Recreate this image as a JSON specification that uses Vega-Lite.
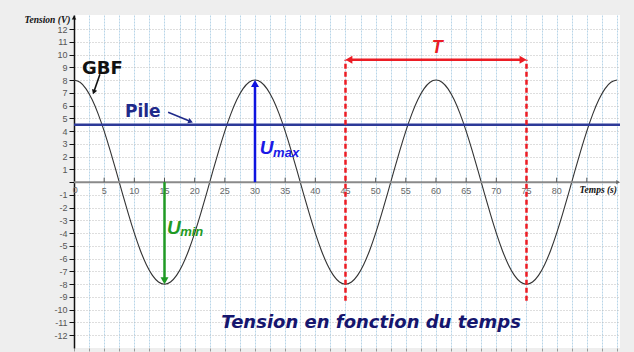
{
  "$schema": "https://vega.github.io/schema/vega-lite/v6.json",
  "width": 546,
  "height": 333,
  "autosize": {"type": "none"},
  "padding": {"left": 74, "top": 15, "right": 14, "bottom": 4},
  "background": "#eeeeee",
  "config": {"font": "Liberation Sans", "view": {"fill": "#ffffff", "stroke": null}},
  "encoding": {
    "x": {"field": "x", "type": "quantitative",
      "scale": {"domain": [0, 90.5], "nice": false, "zero": false},
      "axis": {"orient": "bottom", "title": null, "labels": false, "domain": false,
        "values": [0,2.5,5,7.5,10,12.5,15,17.5,20,22.5,25,27.5,30,32.5,35,37.5,40,42.5,45,47.5,50,52.5,55,57.5,60,62.5,65,67.5,70,72.5,75,77.5,80,82.5,85,87.5,90],
        "grid": true, "gridColor": "#b7d5e8", "gridDash": [2, 1], "gridOpacity": 1,
        "ticks": true, "tickSize": 3, "tickColor": "#999999"}},
    "y": {"field": "y", "type": "quantitative",
      "scale": {"domain": [-13, 13.1], "nice": false, "zero": false},
      "axis": {"orient": "left", "title": null,
        "values": [-12,-11,-10,-9,-8,-7,-6,-5,-4,-3,-2,-1,0,1,2,3,4,5,6,7,8,9,10,11,12],
        "labelExpr": "datum.value == 0 ? '' : '' + datum.value",
        "grid": true, "gridColor": "#bdbdbd", "gridDash": [1, 2], "gridOpacity": 1,
        "domainColor": "#111111", "domainWidth": 1.5, "tickColor": "#111111", "tickSize": 5,
        "labelFontSize": 9, "labelColor": "#555555", "labelPadding": 2}}
  },
  "layer": [
    {
      "data": {"values": [
        {"x":0,"y":8},{"x":1,"y":7.825},{"x":2,"y":7.308},{"x":3,"y":6.472},{"x":4,"y":5.353},{"x":5,"y":4},{"x":6,"y":2.472},{"x":7,"y":0.836},{"x":8,"y":-0.836},{"x":9,"y":-2.472},{"x":10,"y":-4},{"x":11,"y":-5.353},{"x":12,"y":-6.472},{"x":13,"y":-7.308},{"x":14,"y":-7.825},{"x":15,"y":-8},{"x":16,"y":-7.825},{"x":17,"y":-7.308},{"x":18,"y":-6.472},{"x":19,"y":-5.353},{"x":20,"y":-4},{"x":21,"y":-2.472},{"x":22,"y":-0.836},{"x":23,"y":0.836},{"x":24,"y":2.472},{"x":25,"y":4},{"x":26,"y":5.353},{"x":27,"y":6.472},{"x":28,"y":7.308},{"x":29,"y":7.825},
        {"x":30,"y":8},{"x":31,"y":7.825},{"x":32,"y":7.308},{"x":33,"y":6.472},{"x":34,"y":5.353},{"x":35,"y":4},{"x":36,"y":2.472},{"x":37,"y":0.836},{"x":38,"y":-0.836},{"x":39,"y":-2.472},{"x":40,"y":-4},{"x":41,"y":-5.353},{"x":42,"y":-6.472},{"x":43,"y":-7.308},{"x":44,"y":-7.825},{"x":45,"y":-8},{"x":46,"y":-7.825},{"x":47,"y":-7.308},{"x":48,"y":-6.472},{"x":49,"y":-5.353},{"x":50,"y":-4},{"x":51,"y":-2.472},{"x":52,"y":-0.836},{"x":53,"y":0.836},{"x":54,"y":2.472},{"x":55,"y":4},{"x":56,"y":5.353},{"x":57,"y":6.472},{"x":58,"y":7.308},{"x":59,"y":7.825},
        {"x":60,"y":8},{"x":61,"y":7.825},{"x":62,"y":7.308},{"x":63,"y":6.472},{"x":64,"y":5.353},{"x":65,"y":4},{"x":66,"y":2.472},{"x":67,"y":0.836},{"x":68,"y":-0.836},{"x":69,"y":-2.472},{"x":70,"y":-4},{"x":71,"y":-5.353},{"x":72,"y":-6.472},{"x":73,"y":-7.308},{"x":74,"y":-7.825},{"x":75,"y":-8},{"x":76,"y":-7.825},{"x":77,"y":-7.308},{"x":78,"y":-6.472},{"x":79,"y":-5.353},{"x":80,"y":-4},{"x":81,"y":-2.472},{"x":82,"y":-0.836},{"x":83,"y":0.836},{"x":84,"y":2.472},{"x":85,"y":4},{"x":86,"y":5.353},{"x":87,"y":6.472},{"x":88,"y":7.308},{"x":89,"y":7.825},{"x":90,"y":8}
      ]},
      "mark": {"type": "line", "color": "#333333", "strokeWidth": 1.1, "interpolate": "natural"}
    },
    {
      "data": {"values": [{"x": 0, "x2": 90.1, "y": 0}]},
      "mark": {"type": "rule", "color": "#8a8a8a", "strokeWidth": 2},
      "encoding": {"x2": {"field": "x2"}}
    },
    {
      "data": {"values": [{"x":5,"y":0,"y2":0.35},{"x":10,"y":0,"y2":0.35},{"x":15,"y":0,"y2":0.35},{"x":20,"y":0,"y2":0.35},{"x":25,"y":0,"y2":0.35},{"x":30,"y":0,"y2":0.35},{"x":35,"y":0,"y2":0.35},{"x":40,"y":0,"y2":0.35},{"x":45,"y":0,"y2":0.35},{"x":50,"y":0,"y2":0.35},{"x":55,"y":0,"y2":0.35},{"x":60,"y":0,"y2":0.35},{"x":65,"y":0,"y2":0.35},{"x":70,"y":0,"y2":0.35},{"x":75,"y":0,"y2":0.35},{"x":80,"y":0,"y2":0.35},{"x":85,"y":0,"y2":0.35}]},
      "mark": {"type": "rule", "color": "#555555", "strokeWidth": 1},
      "encoding": {"y2": {"field": "y2"}}
    },
    {
      "data": {"values": [{"x":90.2,"y":0}]},
      "mark": {"type": "point", "shape": "triangle-right", "filled": true, "size": 20, "color": "#666666", "opacity": 1}
    },
    {
      "data": {"values": [{"x":0,"y":12.9}]},
      "mark": {"type": "point", "shape": "triangle-up", "filled": true, "size": 20, "color": "#111111", "opacity": 1}
    },
    {
      "data": {"values": [{"x":0.2,"label":"0","y":-0.6},{"x":5,"label":"5","y":-0.7},{"x":10,"label":"10","y":-0.7},{"x":15,"label":"15","y":-0.7},{"x":20,"label":"20","y":-0.7},{"x":25,"label":"25","y":-0.7},{"x":30,"label":"30","y":-0.7},{"x":35,"label":"35","y":-0.7},{"x":40,"label":"40","y":-0.7},{"x":45,"label":"45","y":-0.7},{"x":50,"label":"50","y":-0.7},{"x":55,"label":"55","y":-0.7},{"x":60,"label":"60","y":-0.7},{"x":65,"label":"65","y":-0.7},{"x":70,"label":"70","y":-0.7},{"x":75,"label":"75","y":-0.7},{"x":80,"label":"80","y":-0.7}]},
      "mark": {"type": "text", "fontSize": 9, "color": "#666666", "align": "center", "baseline": "middle"},
      "encoding": {"text": {"field": "label"}}
    },
    {
      "data": {"values": [{"x": 0, "x2": 90.5, "y": 4.5}]},
      "mark": {"type": "rule", "color": "#2d3a98", "strokeWidth": 2.5},
      "encoding": {"x2": {"field": "x2"}}
    },
    {
      "data": {"values": [{"x": 30, "y": 0, "y2": 7.73}]},
      "mark": {"type": "rule", "color": "#0f14e0", "strokeWidth": 2.5},
      "encoding": {"y2": {"field": "y2"}}
    },
    {
      "data": {"values": [{"x": 30, "y": 7.73}]},
      "mark": {"type": "point", "shape": "triangle-up", "filled": true, "size": 64, "color": "#0f14e0", "opacity": 1}
    },
    {
      "data": {"values": [{"x": 15, "y": 0, "y2": -7.73}]},
      "mark": {"type": "rule", "color": "#1f9a24", "strokeWidth": 2.5},
      "encoding": {"y2": {"field": "y2"}}
    },
    {
      "data": {"values": [{"x": 15, "y": -7.73}]},
      "mark": {"type": "point", "shape": "triangle-down", "filled": true, "size": 64, "color": "#1f9a24", "opacity": 1}
    },
    {
      "data": {"values": [{"x": 45, "y": -9.3, "y2": 9.6}, {"x": 75, "y": -9.3, "y2": 9.6}]},
      "mark": {"type": "rule", "color": "#ec1c24", "strokeWidth": 2.5, "strokeDash": [5, 3]},
      "encoding": {"y2": {"field": "y2"}}
    },
    {
      "data": {"values": [{"x": 45.57, "x2": 74.43, "y": 9.6}]},
      "mark": {"type": "rule", "color": "#ec1c24", "strokeWidth": 2.5},
      "encoding": {"x2": {"field": "x2"}}
    },
    {
      "data": {"values": [{"x": 45.57, "y": 9.6}]},
      "mark": {"type": "point", "shape": "triangle-left", "filled": true, "size": 64, "color": "#ec1c24", "opacity": 1}
    },
    {
      "data": {"values": [{"x": 74.43, "y": 9.6}]},
      "mark": {"type": "point", "shape": "triangle-right", "filled": true, "size": 64, "color": "#ec1c24", "opacity": 1}
    },
    {
      "data": {"values": [{"x": 4.3, "y": 8.45, "x2": 3.28, "y2": 7.06}]},
      "mark": {"type": "rule", "color": "#111111", "strokeWidth": 1.6},
      "encoding": {"x2": {"field": "x2"}, "y2": {"field": "y2"}}
    },
    {
      "data": {"values": [{"x": 3.28, "y": 7.06}]},
      "mark": {"type": "point", "shape": "triangle-up", "filled": true, "size": 30, "angle": 199, "color": "#111111", "opacity": 1}
    },
    {
      "data": {"values": [{"x": 15.6, "y": 5.47, "x2": 19.33, "y2": 4.75}]},
      "mark": {"type": "rule", "color": "#1f2a8a", "strokeWidth": 1.6},
      "encoding": {"x2": {"field": "x2"}, "y2": {"field": "y2"}}
    },
    {
      "data": {"values": [{"x": 19.33, "y": 4.75}]},
      "mark": {"type": "point", "shape": "triangle-up", "filled": true, "size": 30, "angle": 112, "color": "#1f2a8a", "opacity": 1}
    },
    {
      "data": {"values": [{"x": 4.7, "y": 8.9, "label": "GBF"}]},
      "mark": {"type": "text", "font": "DejaVu Sans", "fontSize": 18, "fontWeight": "bold", "color": "#111111", "align": "center", "baseline": "middle"},
      "encoding": {"text": {"field": "label"}}
    },
    {
      "data": {"values": [{"x": 11.4, "y": 5.46, "label": "Pile"}]},
      "mark": {"type": "text", "font": "DejaVu Sans", "fontSize": 17, "fontWeight": "bold", "color": "#1f2a8a", "align": "center", "baseline": "middle"},
      "encoding": {"text": {"field": "label"}}
    },
    {
      "data": {"values": [{"x": 30.8, "y": 2.17, "label": "U"}]},
      "mark": {"type": "text", "fontSize": 19, "fontWeight": "bold", "fontStyle": "italic", "color": "#1a1ae6", "align": "left", "baseline": "alphabetic"},
      "encoding": {"text": {"field": "label"}}
    },
    {
      "data": {"values": [{"x": 33.0, "y": 2.0, "label": "max"}]},
      "mark": {"type": "text", "fontSize": 13, "fontWeight": "bold", "fontStyle": "italic", "color": "#1a1ae6", "align": "left", "baseline": "alphabetic"},
      "encoding": {"text": {"field": "label"}}
    },
    {
      "data": {"values": [{"x": 15.4, "y": -4.1, "label": "U"}]},
      "mark": {"type": "text", "fontSize": 19, "fontWeight": "bold", "fontStyle": "italic", "color": "#1f9a24", "align": "left", "baseline": "alphabetic"},
      "encoding": {"text": {"field": "label"}}
    },
    {
      "data": {"values": [{"x": 17.6, "y": -4.25, "label": "min"}]},
      "mark": {"type": "text", "fontSize": 13, "fontWeight": "bold", "fontStyle": "italic", "color": "#1f9a24", "align": "left", "baseline": "alphabetic"},
      "encoding": {"text": {"field": "label"}}
    },
    {
      "data": {"values": [{"x": 60.2, "y": 10.5, "label": "T"}]},
      "mark": {"type": "text", "fontSize": 18, "fontWeight": "bold", "fontStyle": "italic", "color": "#ec1c24", "align": "center", "baseline": "middle"},
      "encoding": {"text": {"field": "label"}}
    },
    {
      "data": {"values": [{"x": 24.4, "y": -11.47, "label": "Tension en fonction du temps"}]},
      "mark": {"type": "text", "font": "DejaVu Sans", "fontSize": 18, "fontWeight": "bold", "fontStyle": "italic", "color": "#16166e", "align": "left", "baseline": "alphabetic"},
      "encoding": {"text": {"field": "label"}}
    },
    {
      "data": {"values": [{"x": -0.6, "y": 12.5, "label": "Tension (V)"}]},
      "mark": {"type": "text", "font": "Liberation Serif", "fontSize": 9.5, "fontWeight": "bold", "fontStyle": "italic", "color": "#111111", "align": "right", "baseline": "alphabetic"},
      "encoding": {"text": {"field": "label"}}
    },
    {
      "data": {"values": [{"x": 90.0, "y": -0.89, "label": "Temps (s)"}]},
      "mark": {"type": "text", "font": "Liberation Serif", "fontSize": 9.5, "fontWeight": "bold", "fontStyle": "italic", "color": "#111111", "align": "right", "baseline": "alphabetic"},
      "encoding": {"text": {"field": "label"}}
    }
  ]
}
